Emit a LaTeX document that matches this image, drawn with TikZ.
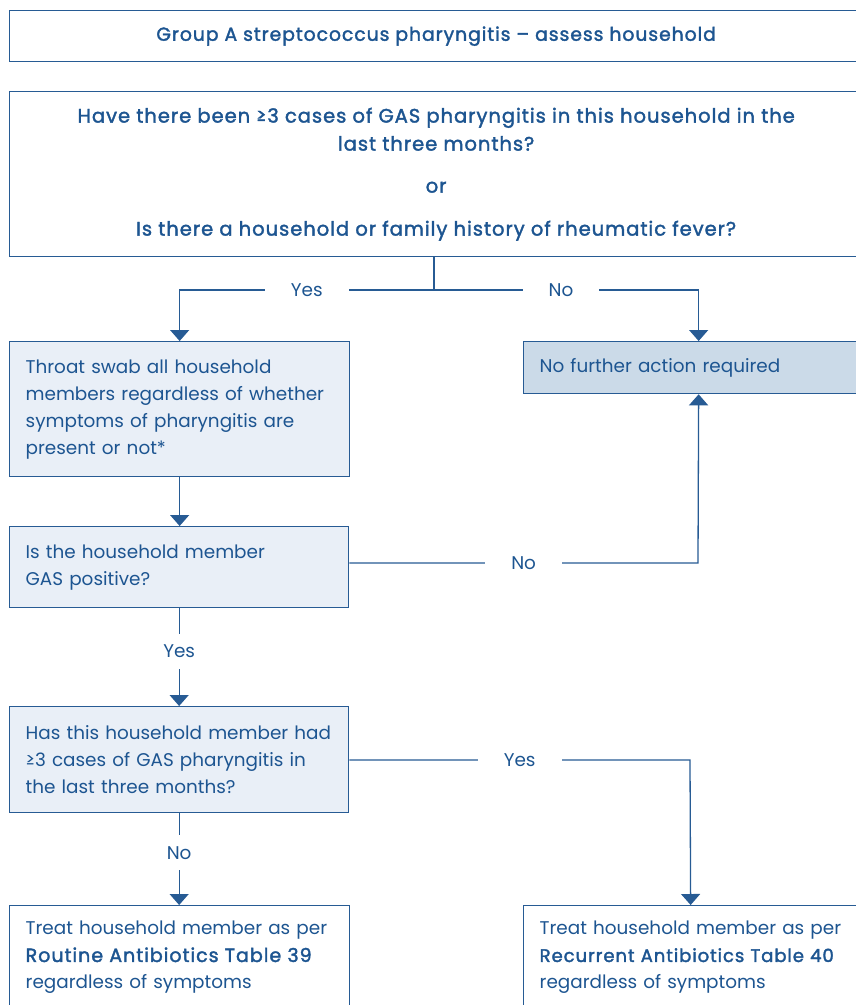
\documentclass[tikz,border=0pt]{standalone}
\usepackage{fontspec}
\setmainfont{Poppins}
\newfontfamily\medfont{Poppins}[FakeBold=1.8, LetterSpace=5]
\usetikzlibrary{arrows.meta}
\definecolor{dblue}{HTML}{1D5591}
\definecolor{lblue}{HTML}{275B94}
\definecolor{pale}{HTML}{E9EFF7}
\definecolor{mid}{HTML}{CBDAE8}
\tikzset{
  box/.style={draw=lblue, line width=1.3pt, anchor=north west, inner xsep=16pt, inner ysep=0pt, text=dblue, font=\fontsize{18.4}{27}\selectfont},
  lbox/.style={box, align=left},
  cbox/.style={box, align=center},
  conn/.style={draw=lblue, line width=1.3pt},
  arr/.style={conn, -{Triangle[width=19pt,length=11pt]}},
  lbl/.style={fill=white, text=dblue, inner xsep=26pt, inner ysep=11pt, font=\fontsize{18.4}{27}\selectfont}
}
\begin{document}
\begin{tikzpicture}[x=1pt,y=-1pt]
\useasboundingbox (0,0) rectangle (856,1005);
\fill[white] (0,0) rectangle (856,1005);
\node[cbox, minimum width=853pt, minimum height=51pt, font=\fontsize{18.8}{27}\medfont] (title) at (9,10) {Group A streptococcus pharyngitis – assess household};
\node[cbox, minimum width=853pt, minimum height=165pt, font=\fontsize{19.5}{28}\medfont] (q1) at (9,91)
  {Have there been ≥3 cases of GAS pharyngitis in this household in the\\last three months?\\[14pt]or\\[15pt]Is there a household or family history of rheumatic fever?};
\node[lbox, fill=pale, minimum width=340pt, minimum height=135pt, text width=308pt] (throat) at (9,341)
  {Throat swab all household\\members regardless of whether\\symptoms of pharyngitis are\\present or not*};
\node[lbox, fill=mid, minimum width=350pt, minimum height=52pt, text width=318pt] (nofa) at (523,341)
  {No further action required};
\node[lbox, fill=pale, minimum width=339pt, minimum height=81pt, text width=307pt] (gas) at (9,526)
  {Is the household member\\GAS positive?};
\node[lbox, fill=pale, minimum width=339pt, minimum height=106pt, text width=307pt] (has) at (9,706)
  {Has this household member had\\≥3 cases of GAS pharyngitis in\\the last three months?};
\node[lbox, minimum width=340pt, minimum height=104pt, text width=308pt] (rout) at (9,905)
  {Treat household member as per\\{\fontsize{19.1}{27}\medfont Routine Antibiotics Table 39}\\regardless of symptoms};
\node[lbox, minimum width=334pt, minimum height=104pt, text width=302pt] (rec) at (523,905)
  {Treat household member as per\\{\fontsize{18.1}{27}\medfont Recurrent Antibiotics Table 40}\\regardless of symptoms};
\coordinate (j) at (434,290);
\coordinate (gn) at (698,563);
\coordinate (hy) at (690,760);
\draw[conn] (q1.south -| j) -- (j);
\draw[arr] (j) -| node[lbl, pos=0.25]{Yes} (throat.north);
\draw[arr] (j) -| node[lbl, pos=0.24]{No} (nofa.north);
\draw[arr] (throat.south) -- (throat.south |- gas.north);
\draw[arr] (gas.east |- gn) -- node[lbl]{No} (gn) -- (nofa.south);
\draw[arr] (gas.south) -- node[lbl, pos=0.44]{Yes} (gas.south |- has.north);
\draw[arr] (has.east |- hy) -- node[lbl]{Yes} (hy) -- (rec.north);
\draw[arr] (has.south) -- node[lbl, pos=0.43]{No} (has.south |- rout.north);
\end{tikzpicture}
\end{document}
